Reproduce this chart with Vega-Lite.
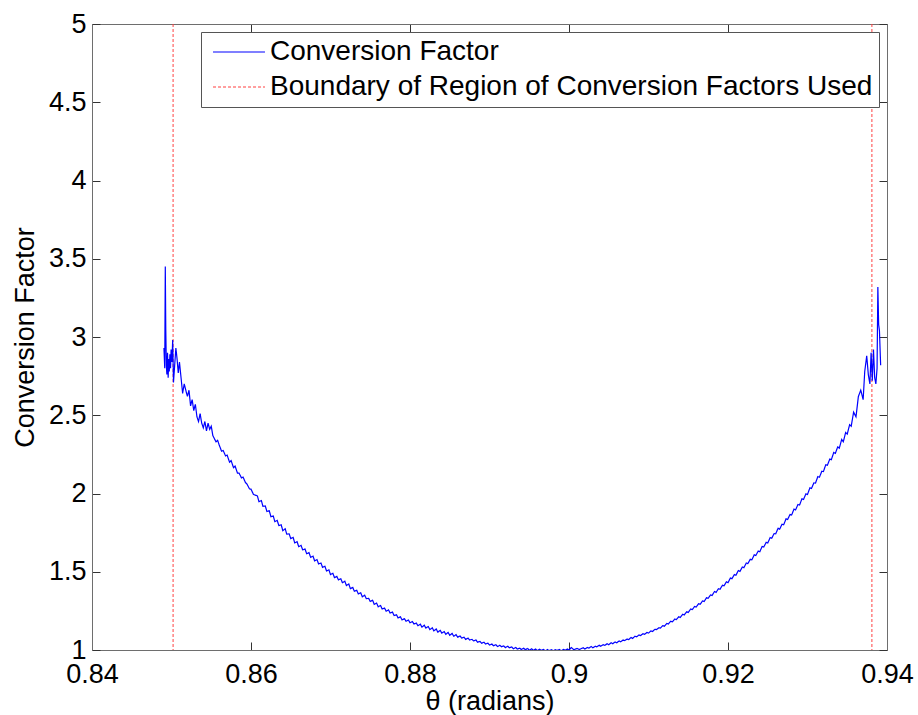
{
"$schema": "https://vega.github.io/schema/vega-lite/v6.json",
"width": 795, "height": 626,
"autosize": {"type": "none"},
"padding": {"left": 92, "top": 24, "right": 31, "bottom": 65},
"background": "white",
"config": {"font": "Liberation Sans", "view": {"stroke": null},
  "axis": {"grid": false, "domainColor": "#6e6e6e", "domainWidth": 1, "tickColor": "#333333", "tickWidth": 1, "tickSize": -8, "labelColor": "black", "labelFontSize": 27, "titleFontSize": 27, "titleFontWeight": "normal", "titleColor": "black", "labelFlush": false, "labelOverlap": false, "labelBound": false},
  "legend": {"orient": "top-right", "offset": 8, "strokeColor": "#555555", "fillColor": "white", "padding": 6, "symbolType": "M-5,0H5", "symbolSize": 108, "symbolOffset": 18, "labelOffset": 17, "labelFontSize": 28, "labelColor": "black", "symbolStrokeWidth": 1.2, "labelLimit": 0, "rowPadding": 7, "title": null}
},
"datasets": {
"cf": [
{"t":0.84905,"v":2.93},{"t":0.84915,"v":2.80},{"t":0.84922,"v":3.45},{"t":0.84928,"v":3.05},{"t":0.84935,"v":2.82},{"t":0.84942,"v":2.76},{"t":0.8495,"v":2.90},{"t":0.84958,"v":2.74},{"t":0.84965,"v":2.86},{"t":0.84972,"v":2.78},{"t":0.8498,"v":2.89},{"t":0.84988,"v":2.80},{"t":0.84995,"v":2.92},{"t":0.85005,"v":2.84},{"t":0.85015,"v":2.98},{"t":0.85025,"v":2.71},{"t":0.8504,"v":2.82},{"t":0.85055,"v":2.93},{"t":0.8507,"v":2.86},{"t":0.85085,"v":2.77},{"t":0.851,"v":2.84},{"t":0.8512,"v":2.74},{"t":0.8514,"v":2.64},{"t":0.8516,"v":2.70},{"t":0.8518,"v":2.66},{"t":0.852,"v":2.62},{"t":0.8522,"v":2.66},{"t":0.8524,"v":2.56},{"t":0.8526,"v":2.60},{"t":0.8528,"v":2.53},{"t":0.853,"v":2.57},{"t":0.8532,"v":2.49},{"t":0.8534,"v":2.46},{"t":0.8536,"v":2.51},{"t":0.8538,"v":2.45},{"t":0.854,"v":2.42},{"t":0.8542,"v":2.46},{"t":0.8544,"v":2.40},{"t":0.8546,"v":2.45},{"t":0.8548,"v":2.41},{"t":0.855,"v":2.43},{"t":0.8552,"v":2.37},{"t":0.8554,"v":2.35},{"t":0.8556,"v":2.33},{"t":0.8558,"v":2.34},
{"t":0.856,"v":2.31},{"t":0.8563,"v":2.27},{"t":0.8565,"v":2.275},{"t":0.8568,"v":2.24},{"t":0.857,"v":2.245},{"t":0.8573,"v":2.20},{"t":0.8575,"v":2.21},{"t":0.8578,"v":2.165},{"t":0.858,"v":2.175},{"t":0.8583,"v":2.13},{"t":0.8585,"v":2.13},{"t":0.8588,"v":2.10},{"t":0.859,"v":2.105},{"t":0.8593,"v":2.07},{"t":0.8595,"v":2.06},{"t":0.8598,"v":2.03},{"t":0.86,"v":2.028},{"t":0.8603,"v":1.995},{"t":0.8605,"v":1.99},{"t":0.8608,"v":1.985},{"t":0.861,"v":1.948},{"t":0.8613,"v":1.955},{"t":0.8615,"v":1.918},{"t":0.8618,"v":1.92},{"t":0.862,"v":1.885},{"t":0.8623,"v":1.89},{"t":0.8625,"v":1.852},{"t":0.8628,"v":1.856},{"t":0.863,"v":1.82},{"t":0.8633,"v":1.828},{"t":0.8635,"v":1.795},{"t":0.8638,"v":1.80},{"t":0.864,"v":1.762},{"t":0.8643,"v":1.775},{"t":0.8645,"v":1.74},{"t":0.8648,"v":1.742},{"t":0.865,"v":1.712},{"t":0.8653,"v":1.72},{"t":0.8655,"v":1.684},{"t":0.8658,"v":1.692},{"t":0.866,"v":1.66},{"t":0.8663,"v":1.668},{"t":0.8665,"v":1.64},{"t":0.8668,"v":1.645},{"t":0.867,"v":1.615},{"t":0.8673,"v":1.622},{"t":0.8675,"v":1.592},{"t":0.8678,"v":1.60},{"t":0.868,"v":1.57},{"t":0.8683,"v":1.578},{"t":0.8685,"v":1.55},{"t":0.8688,"v":1.556},{"t":0.869,"v":1.528},{"t":0.8693,"v":1.535},{"t":0.8695,"v":1.505},{"t":0.8698,"v":1.512},{"t":0.87,"v":1.482},{"t":0.8703,"v":1.49},{"t":0.8705,"v":1.462},{"t":0.8708,"v":1.47},{"t":0.871,"v":1.448},{"t":0.8713,"v":1.455},{"t":0.8715,"v":1.43},{"t":0.8718,"v":1.44},{"t":0.872,"v":1.412},{"t":0.8723,"v":1.422},{"t":0.8725,"v":1.392},{"t":0.8728,"v":1.40},{"t":0.873,"v":1.375},{"t":0.8733,"v":1.382},{"t":0.8735,"v":1.358},{"t":0.8738,"v":1.366},{"t":0.874,"v":1.34},{"t":0.8743,"v":1.35},{"t":0.8745,"v":1.328},{"t":0.8748,"v":1.33},{"t":0.875,"v":1.31},{"t":0.8753,"v":1.318},{"t":0.8755,"v":1.292},{"t":0.8758,"v":1.30},{"t":0.876,"v":1.276},{"t":0.8763,"v":1.284},{"t":0.8765,"v":1.262},{"t":0.8768,"v":1.268},{"t":0.877,"v":1.248},{"t":0.8773,"v":1.256},{"t":0.8775,"v":1.236},{"t":0.8778,"v":1.242},{"t":0.878,"v":1.22},{"t":0.8783,"v":1.225},{"t":0.8785,"v":1.205},{"t":0.8788,"v":1.212},{"t":0.879,"v":1.192},{"t":0.8793,"v":1.20},{"t":0.8795,"v":1.184},{"t":0.8798,"v":1.192},{"t":0.88,"v":1.174},{"t":0.8803,"v":1.182},{"t":0.8805,"v":1.166},{"t":0.8808,"v":1.172},{"t":0.881,"v":1.155},{"t":0.8813,"v":1.165},{"t":0.8815,"v":1.146},{"t":0.8818,"v":1.158},{"t":0.882,"v":1.14},{"t":0.8823,"v":1.15},{"t":0.8825,"v":1.13},{"t":0.8828,"v":1.142},{"t":0.883,"v":1.122},{"t":0.8833,"v":1.134},{"t":0.8835,"v":1.114},{"t":0.8838,"v":1.126},{"t":0.884,"v":1.108},{"t":0.8843,"v":1.118},{"t":0.8845,"v":1.10},{"t":0.8848,"v":1.112},{"t":0.885,"v":1.094},{"t":0.8853,"v":1.106},{"t":0.8855,"v":1.088},{"t":0.8858,"v":1.098},{"t":0.886,"v":1.082},{"t":0.8863,"v":1.09},{"t":0.8865,"v":1.076},{"t":0.8868,"v":1.082},{"t":0.887,"v":1.068},{"t":0.8873,"v":1.076},{"t":0.8875,"v":1.064},{"t":0.8878,"v":1.068},{"t":0.888,"v":1.058},{"t":0.8883,"v":1.064},{"t":0.8885,"v":1.05},{"t":0.8888,"v":1.055},{"t":0.889,"v":1.043},{"t":0.8893,"v":1.05},{"t":0.8895,"v":1.038},{"t":0.8898,"v":1.044},{"t":0.89,"v":1.032},{"t":0.8903,"v":1.038},{"t":0.8905,"v":1.027},{"t":0.8908,"v":1.034},{"t":0.891,"v":1.022},{"t":0.8913,"v":1.03},{"t":0.8915,"v":1.021},{"t":0.8918,"v":1.026},{"t":0.892,"v":1.015},{"t":0.8923,"v":1.024},{"t":0.8925,"v":1.014},{"t":0.8928,"v":1.02},{"t":0.893,"v":1.008},{"t":0.8933,"v":1.016},{"t":0.8935,"v":1.006},{"t":0.8938,"v":1.012},{"t":0.894,"v":1.003},{"t":0.8943,"v":1.011},{"t":0.8945,"v":1.002},{"t":0.8948,"v":1.01},{"t":0.895,"v":0.998},{"t":0.8953,"v":1.008},{"t":0.8955,"v":0.999},{"t":0.8958,"v":1.006},{"t":0.896,"v":0.996},{"t":0.8963,"v":1.005},{"t":0.8965,"v":0.998},{"t":0.8968,"v":1.004},{"t":0.897,"v":0.995},{"t":0.8973,"v":1.003},{"t":0.8975,"v":0.996},{"t":0.8978,"v":1.002},{"t":0.898,"v":0.995},
{"t":0.8983,"v":1.002},{"t":0.8985,"v":0.997},{"t":0.8988,"v":1.003},{"t":0.899,"v":0.995},{"t":0.8993,"v":1.004},{"t":0.8995,"v":0.998},{"t":0.8998,"v":1.006},{"t":0.9,"v":1.000},{"t":0.9003,"v":1.016},{"t":0.9006,"v":1.002},{"t":0.901,"v":1.010},{"t":0.9013,"v":1.003},{"t":0.9015,"v":1.008},{"t":0.9018,"v":1.014},{"t":0.902,"v":1.006},{"t":0.9023,"v":1.016},{"t":0.9025,"v":1.012},{"t":0.9028,"v":1.022},{"t":0.903,"v":1.014},{"t":0.9033,"v":1.024},{"t":0.9035,"v":1.02},{"t":0.9038,"v":1.03},{"t":0.904,"v":1.024},{"t":0.9043,"v":1.034},{"t":0.9045,"v":1.03},{"t":0.9048,"v":1.04},{"t":0.905,"v":1.034},{"t":0.9053,"v":1.046},{"t":0.9055,"v":1.04},{"t":0.9058,"v":1.052},{"t":0.906,"v":1.046},{"t":0.9063,"v":1.058},{"t":0.9065,"v":1.052},{"t":0.9068,"v":1.064},{"t":0.907,"v":1.06},{"t":0.9073,"v":1.07},{"t":0.9075,"v":1.066},{"t":0.9078,"v":1.08},{"t":0.908,"v":1.074},{"t":0.9083,"v":1.088},{"t":0.9085,"v":1.084},{"t":0.9088,"v":1.096},{"t":0.909,"v":1.092},{"t":0.9093,"v":1.104},{"t":0.9095,"v":1.10},{"t":0.9098,"v":1.112},{"t":0.91,"v":1.108},{"t":0.9103,"v":1.122},{"t":0.9105,"v":1.118},{"t":0.9108,"v":1.132},{"t":0.911,"v":1.13},{"t":0.9113,"v":1.142},{"t":0.9115,"v":1.14},{"t":0.9118,"v":1.156},{"t":0.912,"v":1.152},{"t":0.9123,"v":1.17},{"t":0.9125,"v":1.166},{"t":0.9128,"v":1.184},{"t":0.913,"v":1.18},{"t":0.9133,"v":1.198},{"t":0.9135,"v":1.194},{"t":0.9138,"v":1.212},{"t":0.914,"v":1.208},{"t":0.9143,"v":1.228},{"t":0.9145,"v":1.224},{"t":0.9148,"v":1.244},{"t":0.915,"v":1.24},{"t":0.9153,"v":1.262},{"t":0.9155,"v":1.258},{"t":0.9158,"v":1.278},{"t":0.916,"v":1.274},{"t":0.9163,"v":1.296},{"t":0.9165,"v":1.292},{"t":0.9168,"v":1.314},{"t":0.917,"v":1.31},{"t":0.9173,"v":1.334},{"t":0.9175,"v":1.33},{"t":0.9178,"v":1.352},{"t":0.918,"v":1.348},{"t":0.9183,"v":1.374},{"t":0.9185,"v":1.368},{"t":0.9188,"v":1.392},{"t":0.919,"v":1.388},{"t":0.9193,"v":1.414},{"t":0.9195,"v":1.41},{"t":0.9198,"v":1.436},{"t":0.92,"v":1.43},{"t":0.9203,"v":1.46},{"t":0.9205,"v":1.456},{"t":0.9208,"v":1.482},{"t":0.921,"v":1.478},{"t":0.9213,"v":1.508},{"t":0.9215,"v":1.502},{"t":0.9218,"v":1.53},{"t":0.922,"v":1.526},{"t":0.9223,"v":1.556},{"t":0.9225,"v":1.552},{"t":0.9228,"v":1.58},{"t":0.923,"v":1.576},{"t":0.9233,"v":1.608},{"t":0.9235,"v":1.604},{"t":0.9238,"v":1.632},{"t":0.924,"v":1.628},{"t":0.9243,"v":1.662},{"t":0.9245,"v":1.658},{"t":0.9248,"v":1.688},{"t":0.925,"v":1.684},{"t":0.9253,"v":1.718},{"t":0.9255,"v":1.714},{"t":0.9258,"v":1.744},{"t":0.926,"v":1.742},{"t":0.9263,"v":1.778},{"t":0.9265,"v":1.772},{"t":0.9268,"v":1.804},{"t":0.927,"v":1.80},{"t":0.9273,"v":1.838},{"t":0.9275,"v":1.834},{"t":0.9278,"v":1.866},{"t":0.928,"v":1.862},{"t":0.9283,"v":1.90},{"t":0.9285,"v":1.895},{"t":0.9288,"v":1.93},{"t":0.929,"v":1.926},{"t":0.9293,"v":1.966},{"t":0.9295,"v":1.962},{"t":0.9298,"v":1.998},{"t":0.93,"v":1.994},{"t":0.9303,"v":2.036},{"t":0.9305,"v":2.032},{"t":0.9308,"v":2.068},{"t":0.931,"v":2.066},{"t":0.9313,"v":2.108},{"t":0.9315,"v":2.104},{"t":0.9318,"v":2.142},{"t":0.932,"v":2.14},{"t":0.9323,"v":2.184},{"t":0.9325,"v":2.18},{"t":0.9328,"v":2.22},{"t":0.933,"v":2.216},{"t":0.9333,"v":2.262},{"t":0.9335,"v":2.256},{"t":0.9338,"v":2.298},{"t":0.934,"v":2.29},{"t":0.9343,"v":2.345},{"t":0.9345,"v":2.33},{"t":0.9348,"v":2.39},{"t":0.935,"v":2.38},{"t":0.9353,"v":2.44},{"t":0.9355,"v":2.43},{"t":0.9358,"v":2.52},{"t":0.9361,"v":2.49},{"t":0.9364,"v":2.62},{"t":0.9367,"v":2.66},{"t":0.937,"v":2.60},{"t":0.9372,"v":2.78},{"t":0.93745,"v":2.88},{"t":0.93765,"v":2.76},{"t":0.93785,"v":2.70},{"t":0.938,"v":2.90},{"t":0.93815,"v":2.72},{"t":0.9383,"v":2.92},{"t":0.93845,"v":2.74},{"t":0.9386,"v":2.70},{"t":0.93875,"v":2.80},{"t":0.93885,"v":3.32},{"t":0.93895,"v":3.08},{"t":0.93905,"v":3.04},{"t":0.9392,"v":2.82}
],
"bd": [{"t": 0.8502}, {"t": 0.9381}]
},
"layer": [
{"data": {"name": "bd"},
 "mark": {"type": "rule", "strokeWidth": 1},
 "encoding": {
  "x": {"field": "t", "type": "quantitative", "scale": {"domain": [0.84, 0.94], "nice": false, "zero": false}, "axis": null},
  "color": {"datum": "Boundary of Region of Conversion Factors Used", "type": "nominal"},
  "strokeDash": {"datum": "Boundary of Region of Conversion Factors Used", "type": "nominal"}
 }},
{"data": {"name": "cf"},
 "mark": {"type": "line", "clip": true, "strokeWidth": 1.2},
 "encoding": {
  "x": {"field": "t", "type": "quantitative", "scale": {"domain": [0.84, 0.94], "nice": false, "zero": false},
        "axis": {"orient": "bottom", "values": [0.84, 0.86, 0.88, 0.9, 0.92, 0.94], "format": "~g", "labelPadding": 19, "title": "θ (radians)", "titlePadding": 1}},
  "y": {"field": "v", "type": "quantitative", "scale": {"domain": [1, 5], "nice": false, "zero": false},
        "axis": {"orient": "left", "values": [1, 1.5, 2, 2.5, 3, 3.5, 4, 4.5, 5], "format": "~g", "labelPadding": 14, "title": "Conversion Factor", "titlePadding": 9}},
  "color": {"datum": "Conversion Factor", "type": "nominal",
            "scale": {"domain": ["Conversion Factor", "Boundary of Region of Conversion Factors Used"], "range": ["#0000ff", "#ff4040"]}},
  "strokeDash": {"datum": "Conversion Factor", "type": "nominal",
            "scale": {"domain": ["Conversion Factor", "Boundary of Region of Conversion Factors Used"], "range": [[1, 0], [3, 2]]}}
 }},
{"data": {"name": "cf"},
 "mark": {"type": "line", "strokeOpacity": 0},
 "encoding": {
  "x": {"field": "t", "type": "quantitative", "scale": {"domain": [0.84, 0.94], "nice": false, "zero": false},
        "axis": {"orient": "top", "values": [0.84, 0.86, 0.88, 0.9, 0.92, 0.94], "labels": false, "title": null}},
  "y": {"field": "v", "type": "quantitative", "scale": {"domain": [1, 5], "nice": false, "zero": false},
        "axis": {"orient": "right", "values": [1, 1.5, 2, 2.5, 3, 3.5, 4, 4.5, 5], "labels": false, "title": null}}
 }}
],
"resolve": {"axis": {"x": "independent", "y": "independent"}}
}
